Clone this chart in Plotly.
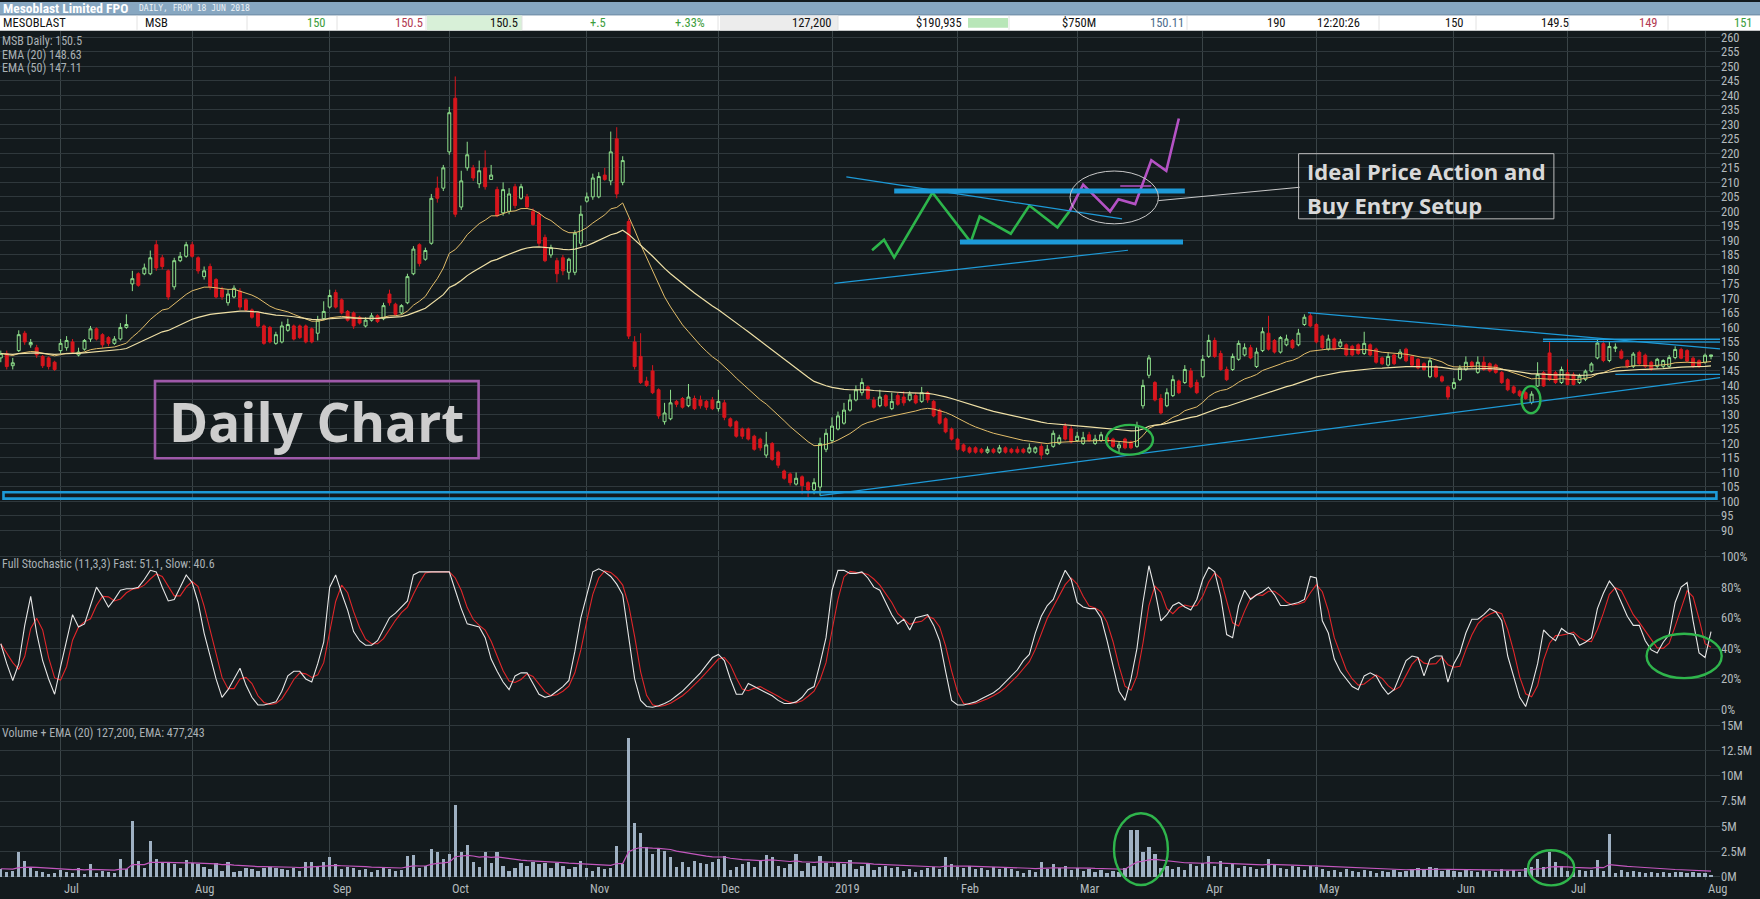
import pandas as pd
import plotly.graph_objects as go

W, H = 1760, 899
BG = "#131a1d"
GRID = "#2f383c"
TXT = "#b3babe"
NARROW = "Roboto Condensed, DejaVu Sans Condensed, sans-serif"

# trading days from 18 Jun 2018 to 2 Aug 2019 (index positions on the x axis)
month_idx = [10, 32, 55, 75, 98, 120, 139, 160, 180, 201, 220, 243, 262, 285]
month_txt = ["Jul", "Aug", "Sep", "Oct", "Nov", "Dec", "2019", "Feb", "Mar", "Apr", "May", "Jun", "Jul", "Aug"]

opens = [
    149.5, 151, 146.8, 152, 158, 154, 153, 150, 149.5, 148,
    152, 153, 155, 150.5, 152.5, 156, 159.5, 157.5, 156.5, 154.5,
    156, 160, 175, 178.5, 178.5, 178.5, 188.5, 184, 179.5, 174,
    183, 184.5, 188.5, 184, 177.5, 181, 176.5, 173, 168.5, 170.5,
    172.5, 169.5, 166, 165, 160.5, 160, 154.5, 155, 159, 160.5,
    160.5, 160.5, 159.5, 158, 163, 167, 172, 169.5, 165.5, 165,
    163.5, 160.5, 162.5, 164, 163, 171.5, 168, 165, 168.5, 178.5,
    188.5, 183.5, 189, 208, 208, 220.5, 239, 201.5, 215, 215,
    209.5, 215, 211, 207.5, 199.5, 200, 208.5, 204.5, 205, 200,
    199, 191, 185, 183, 184, 179, 179, 189, 203.5, 205,
    205, 212.5, 210.5, 225, 210, 196.5, 155, 150, 141.5, 145,
    138.5, 127.5, 128.5, 134.5, 135.5, 133, 135.5, 135, 134.5, 135,
    132, 134, 128.5, 127.5, 125, 125, 122.5, 121.5, 116, 120,
    117, 110.5, 109.5, 106, 108.5, 106.5, 104, 105, 118, 121,
    125, 127, 131.5, 135, 137.5, 139.5, 135, 133, 136.5, 132,
    136.5, 136, 135, 136.5, 134.5, 137.5, 134.5, 131.5, 128.5, 125,
    121.5, 119.5, 118.5, 118.5, 118, 117, 118, 117, 118.5, 118,
    118, 118, 117, 117, 119, 116.5, 119, 120, 126, 125,
    121, 120, 123, 120, 121, 122, 121.5, 118.5, 121.5, 120.5,
    119, 133, 143.5, 141, 135.5, 133, 136.5, 141.5, 141, 145,
    141, 143, 150, 155.5, 151, 145.5, 145.5, 149, 150.5, 153,
    146.5, 152, 158, 155.5, 151.5, 154, 155.5, 154, 161, 164,
    161, 157, 152.5, 156, 153.5, 154, 153.5, 154, 151, 154,
    152.5, 149.5, 147, 150.5, 149.5, 152.5, 150, 149, 147.5, 143,
    146.5, 143, 139.5, 139, 142, 145.5, 148, 144.5, 148, 147.5,
    147, 144.5, 142, 139.5, 138, 137.5, 134.1, 139.8, 144.4, 151.2,
    144.4, 141, 144.4, 143.8, 141, 142.1, 144.9, 149.5, 154.4, 148.6,
    152.8, 151.8, 148.6, 146.6, 151.4, 150.4, 148, 146.6, 146.6, 146.6,
    149.6, 152.4, 152, 149.4, 148.5, 148, 150,
]
highs = [
    152, 152, 149.5, 159, 158.8, 156, 154, 150.5, 150, 148.5,
    156, 157, 156, 153, 156, 160.5, 160, 158, 157, 157,
    161.5, 164.5, 179.5, 179, 182, 186.5, 190, 185, 180, 184,
    186, 189.5, 189.5, 184.5, 181, 182, 177, 174, 173, 174.5,
    173.5, 170, 166.5, 165.5, 161, 160.5, 158.5, 162, 163, 161,
    161, 161, 160, 164, 169, 173, 173, 170, 166, 165.5,
    164, 163.5, 165, 164.5, 168.5, 173, 168.5, 168, 178.5, 188,
    189, 187.5, 206, 212, 216, 236, 246.5, 214, 224, 216,
    217.5, 221, 216, 208.5, 210, 208, 209.5, 209.5, 206, 201,
    200, 192, 188.5, 184, 185, 184, 193.5, 202, 206.5, 213,
    213.5, 215, 227.5, 229, 219, 197.5, 157, 158, 143, 147,
    139, 134, 138.5, 135, 136, 140.5, 136.5, 136.5, 135, 136,
    138.5, 135, 129, 128, 125.5, 125.5, 123, 122, 124, 120.5,
    117.5, 111, 110, 110, 109, 107, 108, 122, 125, 129,
    131, 134, 137, 140, 142.5, 140, 136, 138.5, 137, 137.5,
    137.5, 138, 138, 137.5, 139.5, 138, 135, 132, 129, 125.5,
    122, 120, 119, 119, 118.5, 119, 118.5, 119.5, 119, 118.5,
    119, 118.5, 120, 119, 120, 119.5, 124.5, 123, 127, 126,
    124, 124, 124, 123, 124, 122.5, 122, 120.5, 122, 121,
    127.5, 142, 150.5, 141.5, 137, 139, 143.5, 142, 147, 146,
    142, 150.5, 157.5, 156.5, 152, 146.5, 151, 155.5, 154.5, 154,
    153, 160, 164, 156, 157, 157.5, 156, 159.5, 164.5, 165,
    161.5, 157.5, 157.5, 156.5, 156, 154.5, 154, 154.5, 158.5, 154.5,
    153, 150, 151.5, 151, 152.5, 153, 150.5, 149.5, 148, 149.5,
    147, 143.5, 140, 142.5, 147, 150, 148.5, 150, 150, 148,
    147.5, 145, 142.5, 140, 138.5, 138, 138, 148, 145, 155,
    145, 146.5, 149, 144.5, 144, 145.5, 148, 156, 155.5, 155,
    154.5, 152.5, 149, 151.5, 152, 151, 148.5, 149.5, 149, 150.5,
    153.5, 153, 152.5, 150, 149, 151, 150.5,
]
lows = [
    148, 145.5, 145.5, 151.5, 154, 153, 149.5, 146, 145.5, 145,
    151, 152, 151, 150, 152, 155, 155.5, 153, 153.5, 154,
    155.5, 159.5, 172.5, 174, 178, 178, 179.5, 180, 169.5, 173,
    182.5, 184, 184, 178.5, 176.5, 173, 170, 169.5, 167.5, 170,
    166, 165.5, 163, 160, 154, 154.5, 154, 154.5, 158.5, 155.5,
    156, 154.5, 154.5, 155.5, 162.5, 166.5, 166.5, 164.5, 162, 159.5,
    161, 160, 162, 161.5, 162.5, 167.5, 164, 164.5, 168, 178,
    181, 183, 188.5, 203, 207, 219.5, 198, 200.5, 214, 210.5,
    208, 207.5, 211, 198, 198.5, 199, 201, 204, 201, 195,
    188, 182.5, 184, 175.5, 178, 176.5, 178, 188, 203, 204,
    204.5, 210.5, 209, 204.5, 209, 156, 145.5, 140.5, 139.5, 137,
    128.5, 126.5, 128, 132.5, 132, 132.5, 131.5, 132, 131.5, 131.5,
    131, 128, 125.5, 122, 121.5, 121, 117.5, 117.5, 115, 114,
    111.5, 107.5, 105.5, 105.5, 102.5, 101.5, 102.5, 102, 117, 120,
    124.5, 126.5, 131, 134.5, 136.5, 135, 132, 132.5, 132.5, 131.5,
    133, 133, 134.5, 133.5, 134, 134, 129, 126.5, 123.5, 121,
    117.5, 117, 116.5, 116.5, 116.5, 116.5, 116.5, 116.5, 116.5, 116.5,
    116.5, 116.5, 116.5, 116.5, 114.5, 116, 118.5, 119.5, 121, 120,
    120.5, 119.5, 120.5, 119.5, 120.5, 120, 118.5, 117, 118, 118,
    118.5, 132, 142.5, 134.5, 130, 132.5, 136, 137, 140.5, 139,
    137, 142.5, 149.5, 149.5, 145, 141.5, 145, 148.5, 150, 149,
    146, 151.5, 152, 151, 151, 153.5, 152.5, 153.5, 160.5, 160,
    154.5, 152.5, 152, 152, 153, 150, 150, 150.5, 150.5, 150,
    147.5, 147, 146.5, 147, 149, 148, 146.5, 145.5, 145, 142.5,
    142.5, 141, 135, 138.5, 141.5, 145, 146, 144, 145, 144.5,
    144, 140.5, 138, 137, 136, 135, 133.5, 139.5, 139.5, 141.5,
    140.5, 140.5, 140, 140, 140.5, 141.5, 144.5, 149, 148, 148,
    151.5, 149, 146, 146, 147, 146, 145, 146, 146, 146,
    149, 149, 148, 146, 146, 147.5, 149,
]
closes = [
    151, 146.5, 147.8, 157.5, 155, 154.8, 150.5, 146.8, 146.5, 145.5,
    154.5, 155.5, 151.5, 151.5, 155.5, 159.5, 156, 154, 154.5, 156,
    160, 161, 176.8, 174.5, 180.5, 184, 180.5, 181, 170.5, 183,
    184.5, 188.5, 184.5, 179.5, 179.5, 174, 170.5, 170.5, 171.5, 173.5,
    167, 166, 163.5, 160.5, 154.5, 155, 157.5, 160.5, 161, 156,
    156.5, 155, 155, 162.5, 165.5, 171, 167, 165, 162.5, 160.5,
    161.5, 162.5, 164, 162, 167.5, 168.5, 164.5, 167.5, 177.5, 187,
    182, 186.5, 204.5, 204.5, 215, 234, 199, 210.5, 219.5, 211.5,
    214, 208.5, 212.5, 198.5, 207.5, 206, 202, 208.5, 201.5, 195.5,
    189, 183, 187.5, 178.5, 179.5, 183.5, 192.5, 199, 205, 211.5,
    212, 211, 220.5, 206, 217.5, 157, 146.5, 141, 140, 137.5,
    129.5, 130.5, 134, 133.5, 132.5, 136, 132, 133, 132.5, 132,
    134.5, 129, 126, 122.5, 122.5, 121.5, 118, 118.5, 119.5, 114.5,
    112.5, 108, 106.5, 108, 105.5, 104, 106.5, 120, 123.5, 126,
    129.5, 131.5, 135, 138.5, 141, 135.5, 132.5, 136, 133, 134.5,
    133.5, 134, 137, 134, 137.5, 135, 129.5, 127, 124, 121.5,
    118, 117.5, 117, 117, 117, 118, 117, 118.5, 117, 117,
    117, 117, 118.5, 118.5, 116, 118, 123.5, 122, 121.5, 120.5,
    122.5, 122, 121, 121.5, 123, 120.5, 119, 119.5, 118.5, 118.5,
    126, 140, 149.5, 135, 130.5, 137.5, 142, 137.5, 145.5, 139.5,
    137.5, 149, 155.5, 150, 145.5, 142, 150, 154.5, 153, 149.5,
    151.5, 158.5, 152.5, 151.5, 156.5, 156, 153, 158, 163.5, 160.5,
    155, 153, 156, 152.5, 155, 150.5, 150.5, 151, 154.5, 150.5,
    148, 147.5, 150, 147.5, 151.5, 148.5, 147, 146, 145.5, 148.5,
    143, 141.5, 136, 141, 146, 148, 146.5, 148, 145.5, 145,
    144.5, 141, 138.5, 137.5, 136.5, 135.5, 137, 143.8, 139.8, 142.1,
    141, 145.5, 140.3, 140.3, 143.2, 144.9, 147.4, 154.6, 148.6, 153.4,
    153.2, 149.4, 146.6, 150.8, 147.5, 146.6, 145.6, 149, 148.6, 149.6,
    152.4, 149.4, 148.4, 146.6, 146.6, 150.4, 150.5,
]
# full stochastic (11,3,3) fast line, %
stoch_fast = [
    43, 30, 19, 30, 55, 74, 50, 32, 20, 10,
    28, 46, 62, 54, 56, 68, 80, 74, 67, 72,
    78, 79, 79, 80, 85, 91, 90, 80, 71, 72,
    80, 88, 83, 70, 50, 35, 20, 8, 13, 20,
    27, 16, 8, 3, 3, 4, 5, 12, 22, 25,
    25, 20, 18, 30, 44, 80, 88, 76, 65, 51,
    45, 42, 42, 45, 52, 60, 63, 67, 71, 88,
    90, 90, 90, 90, 90, 90, 78, 66, 56, 55,
    54, 47, 33, 25, 18, 13, 22, 24, 24, 17,
    10, 8, 9, 12, 15, 19, 38, 60, 76, 90,
    92, 90, 87, 82, 75, 48, 20, 6, 2, 1.5,
    2.5, 4, 6, 9, 12, 16, 20, 24, 29, 34,
    36, 32, 20, 10, 10, 17, 15, 13, 11, 9,
    6, 4, 4, 5, 8, 13, 15, 30, 47, 78,
    91, 91, 89, 89, 90, 86, 80, 78, 70, 62,
    56, 59, 52, 60, 61, 62, 55, 45, 25, 6,
    3, 3, 4, 5, 7, 9, 11, 14, 18, 22,
    26, 32, 36, 50, 61, 68, 72, 82, 91, 85,
    70, 67, 66, 66, 60, 45, 28, 12, 6, 20,
    40, 70, 94, 78, 58, 62, 68, 70, 67, 65,
    72, 85, 93, 90, 74, 49, 47, 68, 78, 72,
    75, 77, 80, 75, 68, 68, 69, 70, 72, 87,
    86, 58, 50, 33, 25, 20, 15, 13, 22, 24,
    22, 15, 10, 13, 22, 32, 35, 34, 22, 33,
    35, 35, 18, 30, 37, 50, 59, 59, 62, 66,
    64, 58, 35, 21, 8, 2, 15, 30, 52, 48,
    45, 53, 50, 49, 42, 44, 47, 66, 76, 84,
    79, 70, 61, 55, 55, 45, 39, 37, 44, 49,
    70, 80, 83, 58, 37, 34, 51,
]
# volume in millions of shares
volume = [
    0.8, 0.5, 0.6, 2.4, 1.5, 0.9, 0.6, 0.5, 0.3, 0.4,
    0.7, 0.5, 0.4, 0.9, 0.3, 1.2, 0.4, 0.6, 0.5, 0.4,
    1.7, 0.8, 5.5, 1.5, 0.9, 3.5, 1.7, 1.4, 1.3, 1.2,
    0.9, 1.6, 1.3, 1.2, 1.0, 0.8, 1.3, 0.6, 1.4, 0.5,
    0.6, 0.9, 0.8, 0.6, 0.9, 1.0, 0.9, 0.8, 0.7, 0.9,
    0.6, 1.4, 1.4, 1.0, 1.4, 1.9, 1.2, 0.8, 1.0, 0.9,
    0.7, 0.8, 0.5, 0.7, 0.9, 0.8, 0.6, 0.7, 2.0, 2.1,
    0.9, 1.1, 2.7, 2.4, 1.7, 2.2, 7.1, 2.4, 3.1, 1.4,
    1.0, 2.4, 1.3, 2.4, 1.1, 0.6, 0.9, 1.3, 1.1, 1.4,
    1.2, 1.3, 0.9, 1.3, 1.1, 0.8, 1.0, 1.5, 0.9, 0.6,
    1.0, 0.8, 0.9, 3.0, 1.2, 13.7, 5.3, 4.3, 2.9, 2.2,
    2.7, 2.5, 1.9, 1.0, 1.4, 1.0, 1.5, 1.3, 1.2, 1.4,
    1.7, 2.0, 0.7, 1.0, 1.2, 1.4, 1.0, 1.5, 2.1, 1.9,
    1.1, 0.9, 1.2, 2.2, 0.6, 1.3, 1.1, 2.0, 1.3, 1.0,
    1.4, 1.2, 1.6, 0.8, 1.1, 1.2, 0.7, 1.0, 1.1, 0.9,
    1.0, 0.6, 0.8, 0.5, 0.7, 0.9, 1.0, 0.8, 1.9, 1.2,
    1.0, 0.9, 1.1, 0.8, 0.9, 0.7, 1.0, 0.8, 0.9, 0.8,
    0.6, 0.4, 0.7, 0.5, 1.4, 0.8, 1.2, 0.9, 1.1, 0.7,
    0.9, 0.6, 0.8, 0.5, 0.7, 0.4, 0.6, 0.5, 0.9, 4.6,
    4.65, 2.4, 2.9, 2.2, 0.9, 1.1, 0.8, 1.0, 0.7, 1.2,
    1.1, 1.3, 2.0, 1.1, 1.5, 1.0, 1.2, 0.9, 1.1, 1.0,
    0.8, 0.9, 1.7, 1.2, 0.9, 0.8, 1.1, 1.0, 0.7, 1.1,
    1.0, 0.8, 0.6, 0.7, 0.5, 0.8, 0.6, 0.5, 0.7, 0.6,
    0.4, 0.6, 0.5, 0.7, 0.5, 0.6, 0.8, 0.9, 0.7, 1.0,
    0.9, 0.6, 0.7, 0.6, 0.5, 0.7, 0.6, 0.5, 0.7, 0.6,
    0.5, 0.8, 0.6, 0.7, 0.5, 0.9, 1.0, 1.7, 1.0, 2.4,
    1.4, 1.1, 0.6, 0.5, 0.7, 0.6, 0.7, 1.6, 0.6, 4.2,
    0.4, 0.7, 0.5, 0.6, 0.5, 0.4, 0.5, 0.4, 0.5, 0.4,
    0.5, 0.45, 0.4, 0.45, 0.4, 0.35, 0.13,
]

# hand-drawn sketch of the ideal setup (day index, price)
sketch_green = [(145.7, 186.6), (147.7, 190.2), (149.4, 184.1), (155.8, 206.5), (162.2, 189.4),
                (163.7, 198.3), (168.9, 192.3), (172.0, 202.0), (176.7, 194.5), (178.7, 200.0)]
sketch_purple = [(178.7, 200.0), (181.0, 209.2), (185.5, 200.0), (186.9, 204.2), (189.7, 202.5),
                 (192.4, 217.6), (194.9, 214.0), (197.0, 232.0)]

days = list(range(len(closes)))
c = pd.Series(closes)
ema20 = c.ewm(span=20, adjust=False).mean()
ema50 = c.ewm(span=50, adjust=False).mean()
fast = pd.Series(stoch_fast)
slow = fast.rolling(3, min_periods=1).mean()
v = pd.Series(volume)
vol_ema = v.ewm(span=20, adjust=False).mean()


def px(x):
    return x / W


def py(y):
    return 1 - y / H


fig = go.Figure()
fig.add_trace(go.Candlestick(
    x=days, open=opens, high=highs, low=lows, close=closes,
    increasing=dict(line=dict(color="#8fe08c", width=1), fillcolor=BG),
    decreasing=dict(line=dict(color="#d7161d", width=1), fillcolor="#d7161d"),
    whiskerwidth=0, xaxis="x", yaxis="y", showlegend=False, hoverinfo="skip"))
fig.add_trace(go.Scatter(x=days, y=ema20, mode="lines", line=dict(color="#e2bd6a", width=1),
                         xaxis="x", yaxis="y", showlegend=False, hoverinfo="skip"))
fig.add_trace(go.Scatter(x=days, y=ema50, mode="lines", line=dict(color="#efe0a6", width=1.2),
                         xaxis="x", yaxis="y", showlegend=False, hoverinfo="skip"))
fig.add_trace(go.Scatter(x=[p[0] for p in sketch_green], y=[p[1] for p in sketch_green], mode="lines",
                         line=dict(color="#2db54b", width=2.6), xaxis="x", yaxis="y", showlegend=False))
fig.add_trace(go.Scatter(x=[p[0] for p in sketch_purple], y=[p[1] for p in sketch_purple], mode="lines",
                         line=dict(color="#b452c4", width=2.6), xaxis="x", yaxis="y", showlegend=False))
fig.add_trace(go.Scatter(x=days, y=slow, mode="lines", line=dict(color="#e0262a", width=1.1),
                         xaxis="x2", yaxis="y2", showlegend=False, hoverinfo="skip"))
fig.add_trace(go.Scatter(x=days, y=fast, mode="lines", line=dict(color="#e6e6e6", width=1.1),
                         xaxis="x2", yaxis="y2", showlegend=False, hoverinfo="skip"))
fig.add_trace(go.Bar(x=days, y=volume, width=0.55, marker=dict(color="#9fb1c3", line=dict(width=0)),
                     xaxis="x3", yaxis="y3", showlegend=False, hoverinfo="skip"))
fig.add_trace(go.Scatter(x=days, y=vol_ema, mode="lines", line=dict(color="#c257bd", width=1.2),
                         xaxis="x3", yaxis="y3", showlegend=False, hoverinfo="skip"))

xcommon = dict(range=[-0.134, 287.5], domain=[0, 1720 / W], tickvals=month_idx, showticklabels=False,
               showgrid=True, gridcolor="#3a4447", gridwidth=1, zeroline=False, showline=False, ticks="",
               fixedrange=True)
tick_font = dict(family=NARROW, size=12.5, color=TXT)
ycommon = dict(side="right", showgrid=True, gridcolor=GRID, gridwidth=1, zeroline=False, showline=False,
               ticks="", tickfont=tick_font, fixedrange=True)

price_ticks = list(range(90, 261, 5))
stoch_ticks = [0, 20, 40, 60, 80, 100]
vol_ticks = [0, 2.5, 5, 7.5, 10, 12.5, 15]

fig.update_layout(
    width=W, height=H, margin=dict(l=0, r=0, t=0, b=0),
    paper_bgcolor=BG, plot_bgcolor=BG, showlegend=False, bargap=0,
    xaxis=dict(xcommon, anchor="y", rangeslider=dict(visible=False)),
    xaxis2=dict(xcommon, anchor="y2", matches="x"),
    xaxis3=dict(xcommon, anchor="y3", matches="x"),
    yaxis=dict(ycommon, anchor="x", domain=[py(552), py(29)], range=[83.17, 262.23],
               tickvals=price_ticks, ticktext=[str(t) for t in price_ticks]),
    yaxis2=dict(ycommon, anchor="x2", domain=[py(717), py(553)], range=[-3.05, 103.44],
                tickvals=stoch_ticks, ticktext=[f"{t}%" for t in stoch_ticks]),
    yaxis3=dict(ycommon, anchor="x3", domain=[py(884), py(717)], range=[-0.325, 16.11],
                tickvals=vol_ticks, ticktext=[f"{t:g}M" for t in vol_ticks]),
)

shapes = []
ann = []

# header bar and quote row
shapes.append(dict(type="rect", xref="paper", yref="paper", x0=0, x1=1, y0=py(13), y1=1,
                   fillcolor="#87a7c1", line=dict(width=0), layer="above"))
shapes.append(dict(type="rect", xref="paper", yref="paper", x0=0, x1=1, y0=py(29), y1=py(13),
                   fillcolor="#ffffff", line=dict(width=0), layer="above"))
shapes.append(dict(type="line", xref="paper", yref="paper", x0=0, x1=1, y0=py(13), y1=py(13),
                   line=dict(color="#6c8aa3", width=1), layer="above"))
shapes.append(dict(type="rect", xref="paper", yref="paper", x0=px(427), x1=px(522), y0=py(28.5), y1=py(13.5),
                   fillcolor="#d8f0d8", line=dict(width=0), layer="above"))
shapes.append(dict(type="rect", xref="paper", yref="paper", x0=px(720), x1=px(838), y0=py(28.5), y1=py(13.5),
                   fillcolor="#ececec", line=dict(width=0), layer="above"))
shapes.append(dict(type="rect", xref="paper", yref="paper", x0=px(968), x1=px(1008), y0=py(26), y1=py(16),
                   fillcolor="#b8e6b8", line=dict(width=0), layer="above"))
for sx in [137, 247, 337, 426, 522, 718, 838, 1009, 1187, 1379, 1476, 1569, 1668]:
    shapes.append(dict(type="line", xref="paper", yref="paper", x0=px(sx), x1=px(sx), y0=py(28), y1=py(14),
                       line=dict(color="#e2e2e2", width=1), layer="above"))

ann.append(dict(text="<b>Mesoblast Limited FPO</b>", x=px(1), y=py(6.5), xref="paper", yref="paper",
                xanchor="left", yanchor="middle", showarrow=False,
                font=dict(family=NARROW, size=13.5, color="#ffffff")))
ann.append(dict(text="DAILY, FROM 18 JUN 2018", x=px(137), y=py(7), xref="paper", yref="paper",
                xanchor="left", yanchor="middle", showarrow=False,
                font=dict(family="DejaVu Sans Mono, monospace", size=8, color="#eef3f7")))

quote = [
    ("MESOBLAST", 1, "left", "#111111"), ("MSB", 143, "left", "#111111"),
    ("150", 328, "right", "#3c9d3c"), ("150.5", 425, "right", "#b23a52"),
    ("150.5", 520, "right", "#111111"), ("+.5", 608, "right", "#3c9d3c"),
    ("+.33%", 707, "right", "#3c9d3c"), ("127,200", 833, "right", "#111111"),
    ("$190,935", 964, "right", "#111111"), ("$750M", 1098, "right", "#111111"),
    ("150.11", 1186, "right", "#4d6d8c"), ("190", 1288, "right", "#111111"),
    ("12:20:26", 1315, "left", "#111111"), ("150", 1466, "right", "#111111"),
    ("149.5", 1571, "right", "#111111"), ("149", 1660, "right", "#b23a52"),
    ("151", 1755, "right", "#3c9d3c"),
]
for t, qx, anchor, col in quote:
    ann.append(dict(text=t, x=px(qx), y=py(21), xref="paper", yref="paper", xanchor=anchor,
                    yanchor="middle", showarrow=False, font=dict(family=NARROW, size=12.5, color=col)))

# panel captions
for t, cy in [("MSB Daily: 150.5", 39), ("EMA (20) 148.63", 53), ("EMA (50) 147.11", 66),
              ("Full Stochastic (11,3,3) Fast: 51.1, Slow: 40.6", 566),
              ("Volume + EMA (20) 127,200, EMA: 477,243", 736)]:
    ann.append(dict(text=t, x=0, y=py(cy), xref="paper", yref="paper", xanchor="left", yanchor="middle",
                    showarrow=False, font=dict(family=NARROW, size=12, color="#aab1b5")))

# month labels below the volume panel
for mi, mt in zip(month_idx, month_txt):
    ann.append(dict(text=mt, x=mi, y=py(892), xref="x3", yref="paper", xanchor="left", yanchor="middle",
                    xshift=1, showarrow=False, font=dict(family=NARROW, size=12.5, color=TXT)))

BLUE = "#1d9ad8"


def seg(x0, y0, x1, y1, color=BLUE, width=1.2, xr="x", yr="y"):
    return dict(type="line", xref=xr, yref=yr, x0=x0, y0=y0, x1=x1, y1=y1,
                line=dict(color=color, width=width), layer="above")


# support box near the lows and trend lines
shapes.append(dict(type="rect", xref="x", yref="y", x0=0.45, x1=286.9, y0=101.0, y1=103.2,
                   line=dict(color=BLUE, width=2.6), fillcolor="rgba(0,0,0,0)", layer="above"))
shapes.append(seg(137, 102, 287.5, 142.7))
shapes.append(seg(218.6, 165.1, 287.5, 152.6))
shapes.append(seg(257.9, 155.9, 287.5, 155.9, width=1.6))
shapes.append(seg(257.9, 155.2, 287.5, 154.9))
shapes.append(seg(270.0, 143.8, 287.5, 143.8, width=1.4))

# sketch guides
shapes.append(seg(141.4, 211.9, 187.5, 197.4))
shapes.append(seg(139.4, 175.2, 188.5, 186.6))
shapes.append(seg(149.4, 207.0, 198.0, 207.0, width=5))
shapes.append(seg(160.4, 189.4, 197.7, 189.4, width=5))
shapes.append(seg(187.2, 208.7, 192.4, 208.7, color="#b452c4", width=1.5))
shapes.append(dict(type="circle", xref="x", yref="y", x0=178.8, x1=193.6, y0=195.7, y1=213.9,
                   line=dict(color="#c9c9c9", width=1), layer="above"))
shapes.append(seg(193.6, 203.7, 217.2, 208.3, color="#c9c9c9", width=1))

# text boxes
shapes.append(dict(type="rect", xref="paper", yref="paper", x0=px(1298.6), x1=px(1553.9), y0=py(218.3),
                   y1=py(152.7), line=dict(color="#bdbdbd", width=1), layer="above"))
ann.append(dict(text="<b>Ideal Price Action and</b>", x=px(1305), y=py(170.5), xref="paper", yref="paper",
                xanchor="left", yanchor="middle", showarrow=False,
                font=dict(family="Open Sans", size=22, color="#d9d9d9")))
ann.append(dict(text="<b>Buy Entry Setup</b>", x=px(1305), y=py(204), xref="paper", yref="paper",
                xanchor="left", yanchor="middle", showarrow=False,
                font=dict(family="Open Sans", size=22, color="#d9d9d9")))
shapes.append(dict(type="rect", xref="paper", yref="paper", x0=px(155), x1=px(478.6), y0=py(459.3),
                   y1=py(381.7), line=dict(color="#9e59a9", width=2.6), layer="above"))
ann.append(dict(text="<b>Daily Chart</b>", x=px(316.5), y=py(422), xref="paper", yref="paper",
                xanchor="center", yanchor="middle", showarrow=False,
                font=dict(family="Open Sans", size=53, color="#cdcdcd")))

# green highlight ellipses
GREEN = "#2fb54c"
for x0, x1, y0, y1 in [(1106, 1153, 425.7, 455.7), (1521.6, 1540.4, 386.7, 414),
                       (1646.6, 1721.7, 636, 680.7), (1114, 1167.9, 816.7, 889),
                       (1528.1, 1574.2, 854, 889.3)]:
    shapes.append(dict(type="circle", xref="paper", yref="paper", x0=px(x0), x1=px(x1), y0=py(y1), y1=py(y0),
                       line=dict(color=GREEN, width=2.4), layer="above"))

fig.update_layout(shapes=shapes, annotations=ann)

fig.write_html("out.html", config={"displayModeBar": False},
               post_script="document.body.style.margin='0';document.body.style.backgroundColor='#131a1d';")
